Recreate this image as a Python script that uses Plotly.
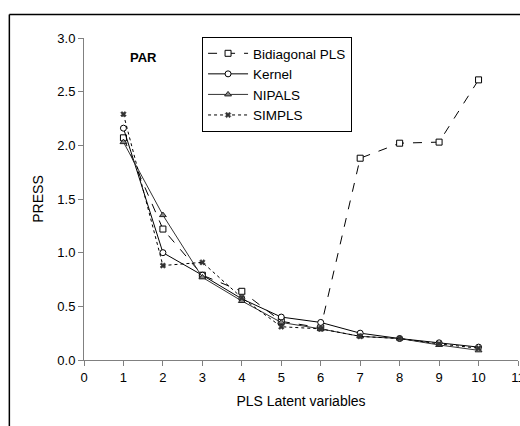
import plotly.graph_objects as go

x_lv = [1, 2, 3, 4, 5, 6, 7, 8, 9, 10]
bidiagonal = [2.07, 1.22, 0.79, 0.64, 0.36, 0.30, 1.88, 2.02, 2.03, 2.61]
kernel = [2.16, 1.00, 0.79, 0.57, 0.40, 0.35, 0.25, 0.20, 0.16, 0.12]
nipals = [2.03, 1.35, 0.77, 0.55, 0.35, 0.29, 0.22, 0.20, 0.14, 0.09]
simpls = [2.29, 0.88, 0.91, 0.58, 0.31, 0.29, 0.22, 0.20, 0.15, 0.11]

x_ticks = list(range(0, 12))
y_ticks = [0.0, 0.5, 1.0, 1.5, 2.0, 2.5, 3.0]

FONT = "Liberation Sans, Arial, sans-serif"

fig = go.Figure()
fig.add_trace(go.Scatter(
    x=x_lv, y=bidiagonal, name="Bidiagonal PLS", mode="lines+markers",
    line=dict(color="black", width=1, dash="dash"),
    marker=dict(symbol="square", size=6, color="white", line=dict(color="black", width=1))))
fig.add_trace(go.Scatter(
    x=x_lv, y=kernel, name="Kernel", mode="lines+markers",
    line=dict(color="black", width=1),
    marker=dict(symbol="circle", size=6, color="white", line=dict(color="black", width=1))))
fig.add_trace(go.Scatter(
    x=x_lv, y=nipals, name="NIPALS", mode="lines+markers",
    line=dict(color="#333333", width=1),
    marker=dict(symbol="triangle-up", size=6, color="#888888", line=dict(color="#222222", width=1))))
fig.add_trace(go.Scatter(
    x=x_lv, y=simpls, name="SIMPLS", mode="lines+markers",
    line=dict(color="black", width=1, dash="dot"),
    marker=dict(symbol="x", size=5, color="#333333", line=dict(color="#333333", width=0.5))))

fig.add_annotation(x=1.52, y=2.82, xref="x", yref="y", text="<b>PAR</b>", showarrow=False,
                   font=dict(family=FONT, size=13, color="black"), xanchor="center", yanchor="middle")

# outer chart border (only left and top edges visible; cropped at right and bottom)
fig.add_shape(type="line", xref="paper", yref="paper", x0=-0.172, y0=-0.3, x1=-0.172, y1=1.0726,
              line=dict(color="black", width=1.5), layer="below")
fig.add_shape(type="line", xref="paper", yref="paper", x0=-0.172, y0=1.0726, x1=1.02, y1=1.0726,
              line=dict(color="black", width=1.5), layer="below")
# white strip beyond the plot's right edge
fig.add_shape(type="rect", xref="paper", yref="paper", x0=1.001, y0=0.01, x1=1.05, y1=1.065,
              line=dict(width=0), fillcolor="white", layer="above")

fig.update_layout(
    width=520, height=426,
    margin=dict(l=84, r=2, t=38, b=66, autoexpand=False),
    paper_bgcolor="white", plot_bgcolor="white",
    font=dict(family=FONT, size=13, color="black"),
    showlegend=True,
    legend=dict(x=0.272, y=1.003, xanchor="left", yanchor="top",
                bordercolor="black", borderwidth=1, bgcolor="white",
                font=dict(family=FONT, size=13.5, color="black"),
                itemwidth=40, tracegroupgap=0),
    xaxis=dict(range=[0, 11], tickvals=x_ticks, ticktext=[str(v) for v in x_ticks],
               automargin=False,
               showgrid=False, zeroline=False, showline=True, linecolor="#808080", linewidth=1,
               ticks="outside", ticklen=5, tickcolor="#808080", ticklabeloverflow="allow",
               tickfont=dict(family=FONT, size=13),
               title=dict(text="PLS Latent variables", font=dict(family=FONT, size=14), standoff=12)),
    yaxis=dict(range=[0, 3], tickvals=y_ticks, ticktext=[f"{v:.1f}" for v in y_ticks],
               automargin=False,
               showgrid=False, zeroline=False, showline=True, linecolor="#808080", linewidth=1,
               ticks="outside", ticklen=5, tickcolor="#808080",
               tickfont=dict(family=FONT, size=13),
               title=dict(text="PRESS", font=dict(family=FONT, size=14), standoff=10)),
)

fig.write_html("out.html")
